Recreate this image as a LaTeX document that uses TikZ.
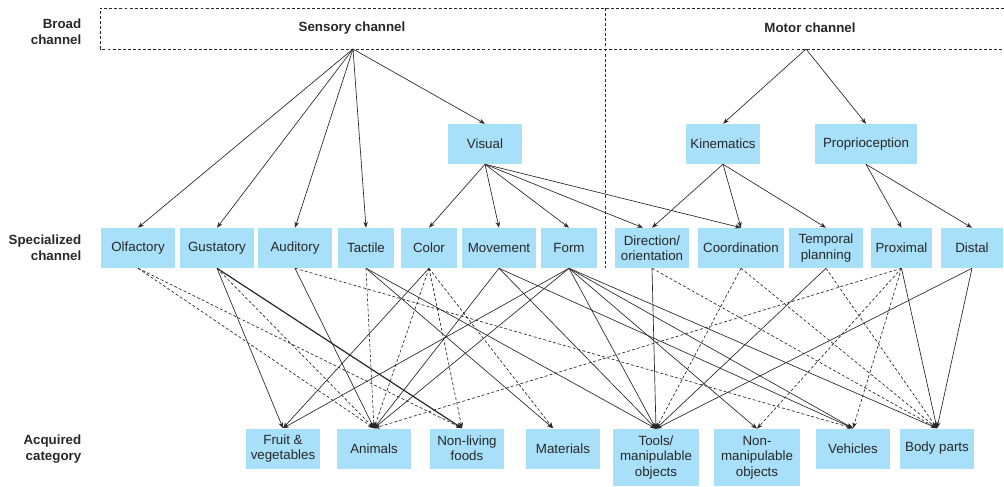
\documentclass[tikz,border=0pt]{standalone}
\usepackage{fontspec}
\setmainfont{Liberation Sans}
\usetikzlibrary{arrows.meta}
\definecolor{boxc}{RGB}{168,223,249}
\definecolor{inkc}{RGB}{40,40,40}
\tikzset{
  box/.style   = {fill=boxc, minimum height=30pt, inner sep=1pt, align=center,
                  font=\fontsize{10}{11.5}\selectfont, text=inkc},
  head/.style  = {font=\fontsize{10}{12}\selectfont\bfseries, text=inkc},
  side/.style  = {font=\fontsize{10}{12}\selectfont\bfseries, text=inkc, align=right, anchor=east},
  link/.style  = {-{Stealth[length=4.5pt, width=3.4pt]}, line width=0.5pt, draw=inkc},
  weak/.style  = {link, dash pattern=on 2.2pt off 1.6pt},
  frame/.style = {draw=inkc, line width=0.5pt, dash pattern=on 2.2pt off 1.6pt},
}

\begin{document}
\begin{tikzpicture}[x=0.75pt, y=-0.75pt]
\useasboundingbox (0,0) rectangle (1004,486);

% ---- row labels ----
\node[side] (broad) at (86,32) {Broad\\channel};
\node[side] (special) at (86,248) {Specialized\\channel};
\node[side] (acquired) at (86,449) {Acquired\\category};

% ---- broad channels ----
\draw[frame] (1004,8) -- (100,8) -- (100,49) -- (1004,49);
\draw[frame] (605,8) -- (605,268);
\node[head] (senst) at (352,28) {Sensory channel};
\node[head] (mott) at (810,28) {Motor channel};
\coordinate (sens) at (353,49);
\coordinate (mot) at (806,49);

% ---- intermediate level ----
\node[box, minimum width=55.5pt] (vis) at (485,144) {Visual};
\node[box, minimum width=55.5pt] (kin) at (723,144) {Kinematics};
\node[box, minimum width=76.5pt] (prop) at (866,144) {Proprioception};

% ---- specialized channels ----
\node[box, minimum width=55.5pt] (olf) at (138,248) {Olfactory};
\node[box, minimum width=55.5pt] (gus) at (217,248) {Gustatory};
\node[box, minimum width=55.5pt] (aud) at (295,248) {Auditory};
\node[box, minimum width=42pt] (tac) at (366,248) {Tactile};
\node[box, minimum width=42pt] (col) at (429,248) {Color};
\node[box, minimum width=55.5pt] (mov) at (499,248) {Movement};
\node[box, minimum width=42pt] (form) at (569,248) {Form};
\node[box, minimum width=55.5pt] (dir) at (652,248) {Direction/\\orientation};
\node[box, minimum width=64.5pt] (coord) at (741,248) {Coordination};
\node[box, minimum width=55.5pt] (temp) at (826,248) {Temporal\\planning};
\node[box, minimum width=45.75pt] (prox) at (901.5,248) {Proximal};
\node[box, minimum width=46.5pt] (dist) at (972,248) {Distal};

% ---- acquired categories ----
\node[box, minimum width=55.5pt] (fruit) at (283,448.5) {Fruit \&\\vegetables};
\node[box, minimum width=55.5pt] (anim) at (374,448.5) {Animals};
\node[box, minimum width=55.5pt] (food) at (467,448.5) {Non-living\\foods};
\node[box, minimum width=55.5pt] (mat) at (563,448.5) {Materials};
\node[box, minimum width=64.5pt, minimum height=42.75pt] (tool) at (656,457.5) {Tools/\\manipulable\\objects};
\node[box, minimum width=64.5pt, minimum height=42.75pt] (nman) at (757,457.5) {Non-\\manipulable\\objects};
\node[box, minimum width=55.5pt] (veh) at (853,448.5) {Vehicles};
\node[box, minimum width=55.5pt] (body) at (937,448.5) {Body parts};

% ---- broad -> specialized ----
\foreach \t in {olf,gus,aud,tac,vis} \draw[link] (sens) -- (\t.north);
\foreach \t in {kin,prop} \draw[link] (mot) -- (\t.north);
\foreach \t in {col,mov,form,coord} \draw[link] (vis.south) -- (\t.north);
\draw[link] (vis.south) -- ([xshift=-6.75pt]dir.north);
\foreach \t in {dir,coord,temp} \draw[link] (kin.south) -- (\t.north);
\foreach \t in {prox,dist} \draw[link] (prop.south) -- (\t.north);

% ---- specialized -> categories (solid: strong, dashed: weak) ----
\draw[weak] (olf.south) -- (anim.north);
\draw[weak] (olf.south) -- ([xshift=-3.75pt]food.north);
\draw[link] (gus.south) -- (fruit.north);
\draw[link, line width=0.9pt] (gus.south) -- ([xshift=-3.75pt]food.north);
\draw[weak] (gus.south) -- (anim.north);
\draw[link] (aud.south) -- (anim.north);
\draw[weak] (aud.south) -- (veh.north);
\draw[weak] (tac.south) -- (anim.north);
\draw[link] (tac.south) -- (tool.north);
\draw[link] (tac.south) -- ([xshift=-7.5pt]mat.north);
\draw[link] (col.south) -- (fruit.north);
\draw[weak] (col.south) -- (anim.north);
\draw[weak] (col.south) -- ([xshift=-3.75pt]food.north);
\draw[weak] (col.south) -- ([xshift=-7.5pt]mat.north);
\draw[link] (mov.south) -- (anim.north);
\draw[link] (mov.south) -- (tool.north);
\draw[link] (mov.south) -- (veh.north);
\draw[link] (form.south) -- (fruit.north);
\draw[link] (form.south) -- (anim.north);
\draw[link] (form.south) -- (tool.north);
\draw[link] (form.south) -- (nman.north);
\draw[link] (form.south) -- (veh.north);
\draw[link] (form.south) -- (body.north);
\draw[link] (dir.south) -- (tool.north);
\draw[weak] (dir.south) -- (body.north);
\draw[weak] (coord.south) -- (tool.north);
\draw[weak] (coord.south) -- (body.north);
\draw[link] (temp.south) -- (tool.north);
\draw[weak] (temp.south) -- (body.north);
\draw[weak] (prox.south) -- (anim.north);
\draw[weak] (prox.south) -- (nman.north);
\draw[weak] (prox.south) -- (veh.north);
\draw[link] (prox.south) -- (body.north);
\draw[link] (dist.south) -- (tool.north);
\draw[link] (dist.south) -- (body.north);

\end{tikzpicture}
\end{document}
